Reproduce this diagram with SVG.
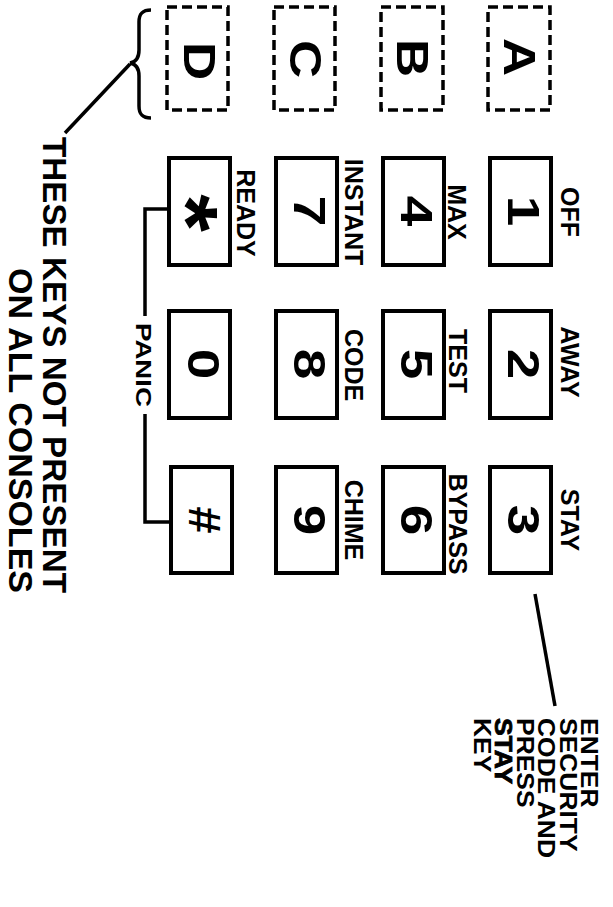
<svg xmlns="http://www.w3.org/2000/svg" width="613" height="907" viewBox="0 0 613 907">
<style>
.key{fill:#fff;stroke:#000;stroke-width:4}
.opt{fill:#fff;stroke:#000;stroke-width:3.5;stroke-dasharray:10 5}
.ln{fill:none;stroke:#000;stroke-width:3.5}
text{font-family:"Liberation Sans",Arial,sans-serif;font-weight:bold;fill:#000}
.dg{font-size:44px;text-anchor:middle}
.lb{font-size:25px;text-anchor:middle}
.nt{font-size:23px;text-anchor:start}
.bt{font-size:34px;text-anchor:end}
.pn{font-size:22px;text-anchor:middle}
</style>
<rect width="613" height="907" fill="#fff"/>
<g id="connectors">
<path class="ln" d="M168,209 H145 V316 M145,414 V522 H171"/>
<path class="ln" d="M535,594 L555,706"/>
<path class="ln" d="M130,64 L65,133"/>
<path class="ln" stroke-width="4.5" d="M151,10 C142,10 139,14 139,22 L139,50 C139,58 136,62 130,63 C136,64 139,68 139,76 L139,106 C139,114 142,118 151,118"/>
</g>
<g id="key-A"><rect class="opt" x="488" y="7" width="62" height="103"/><text class="dg" transform="translate(504,57) rotate(90) scale(1.2,1)">A</text></g>
<g id="key-B"><rect class="opt" x="381" y="7" width="62" height="103"/><text class="dg" transform="translate(397,58) rotate(90) scale(1.2,1)">B</text></g>
<g id="key-C"><rect class="opt" x="274" y="7" width="61" height="103"/><text class="dg" transform="translate(290,59) rotate(90) scale(1.2,1)">C</text></g>
<g id="key-D"><rect class="opt" x="167" y="7" width="61" height="103"/><text class="dg" transform="translate(184,61) rotate(90) scale(1.2,1)">D</text></g>
<g id="key-1"><rect class="key" x="490" y="158" width="61" height="107"/><text class="dg" transform="translate(508,211) rotate(90) scale(1.25,1)">1</text><text class="lb" transform="translate(561,212) rotate(90)">OFF</text></g>
<g id="key-2"><rect class="key" x="490" y="311" width="61" height="107"/><text class="dg" transform="translate(508,364) rotate(90) scale(1.25,1)">2</text><text class="lb" transform="translate(561,362) rotate(90)">AWAY</text></g>
<g id="key-3"><rect class="key" x="490" y="467" width="61" height="106"/><text class="dg" transform="translate(508,520) rotate(90) scale(1.25,1)">3</text><text class="lb" transform="translate(561,520) rotate(90)">STAY</text></g>
<g id="key-4"><rect class="key" x="383" y="158" width="61" height="107"/><text class="dg" transform="translate(401,211) rotate(90) scale(1.25,1)">4</text><text class="lb" transform="translate(448,212) rotate(90)">MAX</text></g>
<g id="key-5"><rect class="key" x="383" y="311" width="61" height="107"/><text class="dg" transform="translate(401,364) rotate(90) scale(1.25,1)">5</text><text class="lb" transform="translate(449,361) rotate(90)">TEST</text></g>
<g id="key-6"><rect class="key" x="383" y="467" width="61" height="106"/><text class="dg" transform="translate(401,520) rotate(90) scale(1.25,1)">6</text><text class="lb" transform="translate(449,524) rotate(90)">BYPASS</text></g>
<g id="key-7"><rect class="key" x="276" y="158" width="61" height="107"/><text class="dg" transform="translate(294,211) rotate(90) scale(1.25,1)">7</text><text class="lb" transform="translate(345,212) rotate(90)">INSTANT</text></g>
<g id="key-8"><rect class="key" x="276" y="311" width="61" height="107"/><text class="dg" transform="translate(294,364) rotate(90) scale(1.25,1)">8</text><text class="lb" transform="translate(345,365) rotate(90)">CODE</text></g>
<g id="key-9"><rect class="key" x="276" y="467" width="61" height="106"/><text class="dg" transform="translate(294,520) rotate(90) scale(1.25,1)">9</text><text class="lb" transform="translate(345,520) rotate(90)">CHIME</text></g>
<g id="key-star"><rect class="key" x="169" y="158" width="61" height="107"/><text class="dg" style="font-size:88px" transform="translate(157,213) rotate(90) scale(1.1,1)">*</text><text class="lb" transform="translate(237,213) rotate(90)">READY</text></g>
<g id="key-0"><rect class="key" x="169" y="311" width="61" height="107"/><text class="dg" transform="translate(188,364) rotate(90) scale(1.25,1)">0</text></g>
<g id="key-hash"><rect class="key" x="171" y="467" width="61" height="106"/><text class="dg" transform="translate(189,520) rotate(90) scale(1.1,1)">#</text></g>
<g id="panic-label"><text class="pn" transform="translate(136,365) rotate(90)" textLength="84" lengthAdjust="spacingAndGlyphs">PANIC</text></g>
<g id="note-consoles">
<text class="bt" transform="translate(43,593) rotate(90)" textLength="456" lengthAdjust="spacingAndGlyphs">THESE KEYS NOT PRESENT</text>
<text class="bt" transform="translate(9,593) rotate(90)">ON ALL CONSOLES</text>
</g>
<g id="note-stay">
<text class="nt" transform="translate(581,718) rotate(90) scale(1.15,1)">ENTER</text>
<text class="nt" transform="translate(559.5,718) rotate(90) scale(1.15,1)">SECURITY</text>
<text class="nt" transform="translate(538,718) rotate(90) scale(1.15,1)">CODE AND</text>
<text class="nt" transform="translate(516.5,718) rotate(90) scale(1.15,1)">PRESS</text>
<text class="nt" transform="translate(495,718) rotate(90) scale(1.15,1)" stroke="#000" stroke-width="0.8">STAY</text>
<text class="nt" transform="translate(473.5,718) rotate(90) scale(1.15,1)">KEY</text>
</g>
</svg>
